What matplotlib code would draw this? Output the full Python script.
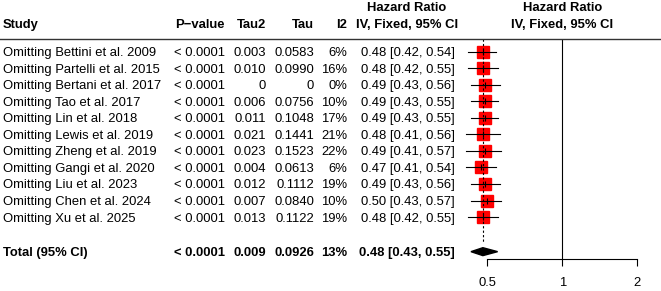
import numpy as np
import matplotlib
matplotlib.use("Agg")
import matplotlib.pyplot as plt
import matplotlib.transforms as mtransforms

# 字体与字号（Arial 等宽度的 Liberation Sans）
plt.rcParams['font.family'] = ['Liberation Sans', 'DejaVu Sans']
plt.rcParams['font.size'] = 9.4

# ---------------------- 数据 ----------------------
studies = ['Omitting Bettini et al. 2009', 'Omitting Partelli et al. 2015',
           'Omitting Bertani et al. 2017', 'Omitting Tao et al. 2017',
           'Omitting Lin et al. 2018', 'Omitting Lewis et al. 2019',
           'Omitting Zheng et al. 2019', 'Omitting Gangi et al. 2020',
           'Omitting Liu et al. 2023', 'Omitting Chen et al. 2024',
           'Omitting Xu et al. 2025']
p_values = ['< 0.0001'] * 11
tau2 = [0.003, 0.010, 0, 0.006, 0.011, 0.021, 0.023, 0.004, 0.012, 0.007, 0.013]
tau = [0.0583, 0.0990, 0, 0.0756, 0.1048, 0.1441, 0.1523, 0.0613, 0.1112, 0.0840, 0.1122]
i2 = [6, 16, 0, 10, 17, 21, 22, 6, 19, 10, 19]
hr = [0.48, 0.48, 0.49, 0.49, 0.49, 0.48, 0.49, 0.47, 0.49, 0.50, 0.48]
lower = [0.42, 0.42, 0.43, 0.43, 0.43, 0.41, 0.41, 0.41, 0.43, 0.43, 0.42]
upper = [0.54, 0.55, 0.56, 0.55, 0.55, 0.56, 0.57, 0.54, 0.56, 0.57, 0.55]

total_label = 'Total (95% CI)'
total_p = '< 0.0001'
total_tau2 = 0.009
total_tau = 0.0926
total_i2 = 13
total_hr, total_lower, total_upper = 0.48, 0.43, 0.55

x_ticks = [0.5, 1, 2]
x_ticklabels = ['0.5', '1', '2']


def fmt_num(v, nd):
    return '0' if v == 0 else f'{v:.{nd}f}'


# ---------------------- 画布与森林图坐标轴 ----------------------
W, H = 661, 291
fig = plt.figure(figsize=(W / 100, H / 100), dpi=100)
ax = fig.add_axes([360 / W, (H - 259) / H, 301 / W, 259 / H])
ax.set_xscale('log')
ax.set_xlim(2 ** ((360 - 562.3) / 75), 2 ** ((661 - 562.3) / 75))
axis_row = 13.545
ax.set_ylim(axis_row, -2.15)

rows = np.arange(1, len(studies) + 1)
total_row = 13.1
rule_row = 0.21

# 各研究：置信区间 + 红色方块 + 中心刻线
for r, est, lo, hi in zip(rows, hr, lower, upper):
    ax.plot(est, r, marker='s', ms=9, color='red', mec='red', zorder=2)
    ax.plot([lo, hi], [r, r], color='black', lw=0.8, zorder=3)
    ax.plot(est, r, marker='|', ms=5, mew=0.8, color='black', zorder=4)

# 合并效应菱形
dh = 0.24
ax.fill([total_lower, total_hr, total_upper, total_hr],
        [total_row, total_row - dh, total_row, total_row + dh],
        color='black', zorder=3)

# 参考线
ax.vlines(1, rule_row, axis_row, color='black', lw=0.8)
ax.vlines(total_hr, rule_row, total_row - dh - 0.3, color='black', lw=0.8,
          linestyles=(0, (2, 2)))

# 坐标轴样式
for s in ['top', 'right', 'left']:
    ax.spines[s].set_visible(False)
ax.spines['bottom'].set_bounds(0.5, 2)
ax.spines['bottom'].set_linewidth(0.8)
ax.set_xticks(x_ticks)
ax.set_xticklabels(x_ticklabels)
ax.minorticks_off()
ax.tick_params(axis='x', length=5, width=0.8, pad=8, labelsize=9.4)
ax.set_yticks([])
ax.patch.set_visible(False)

# ---------------------- 左侧表格文本 ----------------------
base = mtransforms.blended_transform_factory(fig.transFigure, ax.transData)
trans = mtransforms.offset_copy(base, fig=fig, y=-1.5, units='dots')
trans_fp = mtransforms.offset_copy(ax.transData, fig=fig, y=-1.5, units='dots')


def px(x):
    return x / W


head_row2 = -0.74
head_row1 = -1.73
ax.text(px(3), head_row2, 'Study', transform=trans, ha='left', va='center', fontweight='bold')
ax.text(px(225), head_row2, 'P\u2212value', transform=trans, ha='right', va='center', fontweight='bold')
ax.text(px(266), head_row2, 'Tau2', transform=trans, ha='right', va='center', fontweight='bold')
ax.text(px(314), head_row2, 'Tau', transform=trans, ha='right', va='center', fontweight='bold')
ax.text(px(347), head_row2, 'I2', transform=trans, ha='right', va='center', fontweight='bold')
ax.text(px(407), head_row1, 'Hazard Ratio', transform=trans, ha='center', va='center', fontweight='bold')
ax.text(px(407), head_row2, 'IV, Fixed, 95% CI', transform=trans, ha='center', va='center', fontweight='bold')
ax.text(1, head_row1, 'Hazard Ratio', transform=trans_fp, ha='center', va='center', fontweight='bold')
ax.text(1, head_row2, 'IV, Fixed, 95% CI', transform=trans_fp, ha='center', va='center', fontweight='bold')

# 表头下方横线
ax.plot([0, 1], [rule_row, rule_row], transform=base, color='#333333', lw=1.0, clip_on=False)

for r, name, p, t2, t, ii, est, lo, hi in zip(rows, studies, p_values, tau2, tau, i2, hr, lower, upper):
    ax.text(px(3), r, name, transform=trans, ha='left', va='center')
    ax.text(px(225), r, p, transform=trans, ha='right', va='center')
    ax.text(px(266), r, fmt_num(t2, 3), transform=trans, ha='right', va='center')
    ax.text(px(314), r, fmt_num(t, 4), transform=trans, ha='right', va='center')
    ax.text(px(347), r, f'{ii}%', transform=trans, ha='right', va='center')
    ax.text(px(455), r, f'{est:.2f} [{lo:.2f}, {hi:.2f}]', transform=trans, ha='right', va='center')

# 合计行（加粗）
bold = dict(transform=trans, va='center', fontweight='bold')
ax.text(px(3), total_row, total_label, ha='left', **bold)
ax.text(px(225), total_row, total_p, ha='right', **bold)
ax.text(px(266), total_row, fmt_num(total_tau2, 3), ha='right', **bold)
ax.text(px(314), total_row, fmt_num(total_tau, 4), ha='right', **bold)
ax.text(px(347), total_row, f'{total_i2}%', ha='right', **bold)
ax.text(px(455), total_row, f'{total_hr:.2f} [{total_lower:.2f}, {total_upper:.2f}]', ha='right', **bold)

fig.savefig('out.png', dpi=100)
